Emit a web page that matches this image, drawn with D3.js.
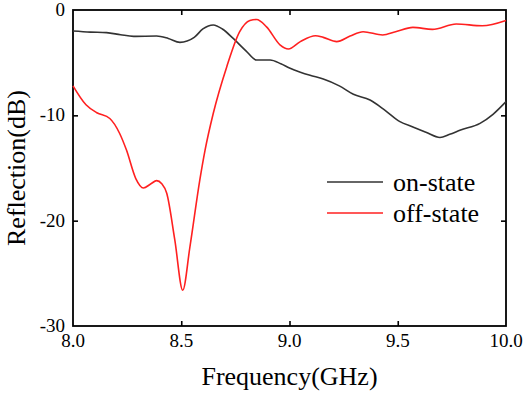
<!DOCTYPE html>
<html>
<head>
<meta charset="utf-8">
<script src="https://cdn.jsdelivr.net/npm/d3@7"></script>
<style>
  body { margin: 0; background: #fff; }
  svg text { font-family: "Liberation Serif", "Times New Roman", serif; fill: #000; }
</style>
</head>
<body>
<div id="chart"></div>
<script>
// frequency (GHz) / reflection (dB)
var onFreq = [8.0, 8.08, 8.155, 8.22, 8.28, 8.386, 8.44, 8.494, 8.56, 8.6, 8.648, 8.69, 8.74, 8.80, 8.848, 8.91, 8.96, 9.0, 9.05, 9.095, 9.156, 9.23, 9.295, 9.372, 9.44, 9.51, 9.57, 9.63, 9.695, 9.74, 9.79, 9.88, 9.94, 10.0];
var onDb   = [-2.0, -2.1, -2.15, -2.35, -2.5, -2.47, -2.7, -3.07, -2.6, -1.8, -1.42, -1.8, -2.7, -3.9, -4.75, -4.75, -5.1, -5.5, -5.9, -6.2, -6.55, -7.2, -8.0, -8.55, -9.5, -10.6, -11.1, -11.6, -12.1, -11.8, -11.4, -10.76, -9.9, -8.7];

var offFreq = [8.0, 8.06, 8.11, 8.17, 8.215, 8.247, 8.29, 8.325, 8.36, 8.386, 8.41, 8.433, 8.47, 8.507, 8.54, 8.586, 8.61, 8.648, 8.71, 8.77, 8.817, 8.848, 8.894, 8.956, 8.995, 9.05, 9.12, 9.156, 9.218, 9.28, 9.34, 9.43, 9.49, 9.57, 9.66, 9.77, 9.89, 10.0];
var offDb   = [-7.2, -9.0, -9.75, -10.3, -11.7, -13.3, -16.0, -16.9, -16.5, -16.2, -16.5, -17.4, -21.8, -26.6, -22.5, -16.1, -13.3, -9.8, -5.4, -2.06, -1.0, -0.9, -1.6, -3.3, -3.7, -3.0, -2.44, -2.6, -3.0, -2.47, -2.06, -2.37, -2.06, -1.65, -1.84, -1.33, -1.5, -1.0];

var seriesNames = ["on-state", "off-state"];
var seriesColors = ["#333333", "#ff2020"];
var xTicks = [8.0, 8.5, 9.0, 9.5, 10.0];
var xTickLabels = ["8.0", "8.5", "9.0", "9.5", "10.0"];
var yTicks = [0, -10, -20, -30];
var yTickLabels = ["0", "-10", "-20", "-30"];

var width = 526, height = 394;
var margin = {top: 10, right: 20, bottom: 68, left: 73};
var innerWidth = width - margin.left - margin.right;
var innerHeight = height - margin.top - margin.bottom;

var svg = d3.select("#chart").append("svg")
  .attr("width", width)
  .attr("height", height);

// scales in page coordinates
var x = d3.scaleLinear().domain([8, 10]).range([margin.left, width - margin.right]);
var y = d3.scaleLinear().domain([-30, 0]).range([height - margin.bottom, margin.top]);

svg.append("rect")
  .attr("x", margin.left)
  .attr("y", margin.top)
  .attr("width", innerWidth)
  .attr("height", innerHeight)
  .attr("fill", "none")
  .attr("stroke", "#000")
  .attr("stroke-width", 1.8);

var line = d3.line()
  .x(d => x(d[0]))
  .y(d => y(d[1]))
  .curve(d3.curveMonotoneX);

var series = [
  d3.zip(onFreq, onDb),
  d3.zip(offFreq, offDb)
];

svg.selectAll("path.series").data(series)
  .enter().append("path")
  .attr("class", "series")
  .attr("d", line)
  .attr("fill", "none")
  .attr("stroke", (d, i) => seriesColors[i])
  .attr("stroke-width", 1.6);

// tick marks pointing inward on all four sides
var inner = xTicks.slice(1, -1), innerY = yTicks.slice(1, -1);
svg.append("g").attr("transform", "translate(0," + (height - margin.bottom) + ")")
  .call(d3.axisBottom(x).tickValues(inner).tickFormat("").tickSizeInner(-5).tickSizeOuter(0));
svg.append("g").attr("transform", "translate(0," + margin.top + ")")
  .call(d3.axisTop(x).tickValues(inner).tickFormat("").tickSizeInner(-5).tickSizeOuter(0));
svg.append("g").attr("transform", "translate(" + margin.left + ",0)")
  .call(d3.axisLeft(y).tickValues(innerY).tickFormat("").tickSizeInner(-5).tickSizeOuter(0));
svg.append("g").attr("transform", "translate(" + (width - margin.right) + ",0)")
  .call(d3.axisRight(y).tickValues(innerY).tickFormat("").tickSizeInner(-5).tickSizeOuter(0));

svg.selectAll(".domain").remove();
svg.selectAll(".tick text").remove();
svg.selectAll(".tick line").attr("stroke", "#000").attr("stroke-width", 1.6);

// tick labels
svg.selectAll("text.xlab").data(xTicks)
  .enter().append("text")
  .attr("class", "xlab")
  .attr("x", d => x(d))
  .attr("y", height - margin.bottom + 21)
  .attr("text-anchor", "middle")
  .attr("font-size", 19)
  .text((d, i) => xTickLabels[i]);

svg.selectAll("text.ylab").data(yTicks)
  .enter().append("text")
  .attr("class", "ylab")
  .attr("x", margin.left - 8)
  .attr("y", d => y(d) + 6)
  .attr("text-anchor", "end")
  .attr("font-size", 19)
  .text((d, i) => yTickLabels[i]);

// axis titles
svg.append("text")
  .attr("x", margin.left + innerWidth / 2)
  .attr("y", 385)
  .attr("text-anchor", "middle")
  .attr("font-size", 26)
  .text("Frequency(GHz)");

svg.append("text")
  .attr("transform", "translate(25," + (margin.top + innerHeight / 2) + ") rotate(-90)")
  .attr("text-anchor", "middle")
  .attr("font-size", 26)
  .text("Reflection(dB)");

// legend
var legend = svg.append("g").attr("transform", "translate(327,182)");
seriesNames.forEach((name, i) => {
  var row = legend.append("g").attr("transform", "translate(0," + (i * 31) + ")");
  row.append("line")
    .attr("x1", 0).attr("x2", 56)
    .attr("stroke", seriesColors[i])
    .attr("stroke-width", 1.6);
  row.append("text")
    .attr("x", 66)
    .attr("y", 9)
    .attr("font-size", 26)
    .text(name);
});
</script>
</body>
</html>
